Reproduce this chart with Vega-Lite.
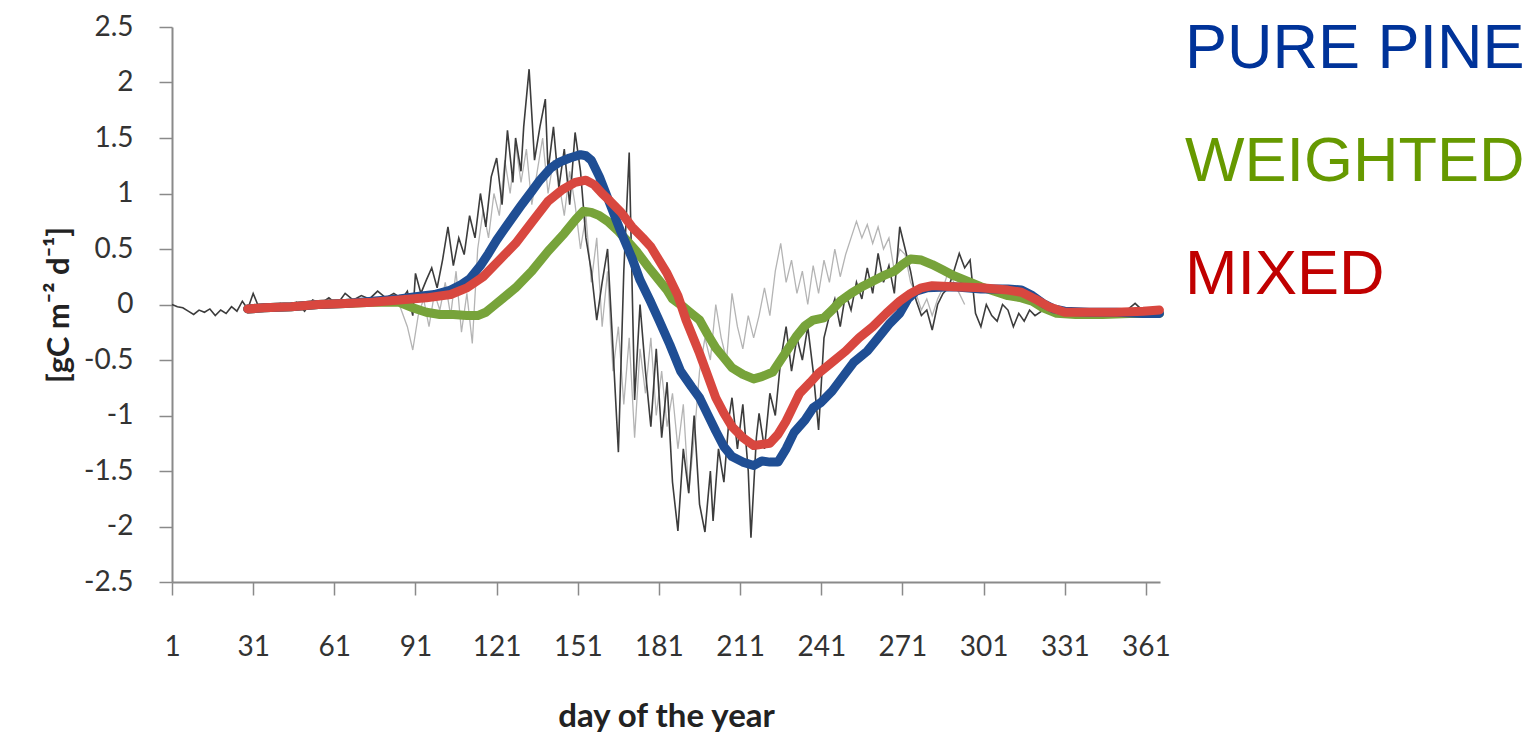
{
  "$schema": "https://vega.github.io/schema/vega-lite/v6.json",
  "width": 988,
  "height": 555,
  "autosize": "none",
  "padding": {"left": 172, "top": 27, "right": 373, "bottom": 152},
  "background": "white",
  "config": {"view": {"stroke": null}},
  "datasets": {
    "dark": [
      {"day":1,"value":0.0},{"day":3,"value":-0.02},{"day":5,"value":-0.03},{"day":7,"value":-0.06},{"day":9,"value":-0.09},{"day":11,"value":-0.05},{"day":13,"value":-0.07},{"day":15,"value":-0.04},{"day":17,"value":-0.1},{"day":19,"value":-0.05},{"day":21,"value":-0.08},{"day":23,"value":-0.02},{"day":25,"value":-0.06},{"day":27,"value":0.03},{"day":29,"value":-0.04},{"day":31,"value":0.1},{"day":33,"value":-0.02},{"day":35,"value":0.0},{"day":38,"value":-0.04},{"day":41,"value":0.01},{"day":44,"value":-0.03},{"day":47,"value":0.02},{"day":50,"value":-0.06},{"day":53,"value":0.04},{"day":56,"value":0.01},{"day":59,"value":0.06},{"day":62,"value":0.0},{"day":65,"value":0.1},{"day":68,"value":0.04},{"day":71,"value":0.08},{"day":74,"value":0.05},{"day":77,"value":0.12},{"day":80,"value":0.06},{"day":83,"value":0.1},{"day":86,"value":0.05},{"day":88,"value":0.12},{"day":90,"value":-0.1},{"day":91,"value":0.28},{"day":93,"value":0.1},{"day":95,"value":0.22},{"day":97,"value":0.33},{"day":99,"value":0.15},{"day":101,"value":0.4},{"day":103,"value":0.7},{"day":105,"value":0.35},{"day":107,"value":0.6},{"day":109,"value":0.45},{"day":111,"value":0.8},{"day":113,"value":0.6},{"day":115,"value":1.0},{"day":117,"value":0.7},{"day":119,"value":1.15},{"day":121,"value":1.32},{"day":123,"value":0.9},{"day":125,"value":1.57},{"day":127,"value":1.1},{"day":128,"value":1.5},{"day":130,"value":1.2},{"day":131,"value":1.6},{"day":133,"value":2.12},{"day":135,"value":1.3},{"day":137,"value":1.6},{"day":139,"value":1.85},{"day":140,"value":1.2},{"day":142,"value":1.6},{"day":144,"value":1.05},{"day":146,"value":1.4},{"day":148,"value":0.9},{"day":150,"value":1.55},{"day":152,"value":1.2},{"day":154,"value":0.6},{"day":156,"value":0.3},{"day":158,"value":-0.14},{"day":160,"value":0.2},{"day":162,"value":0.5},{"day":164,"value":-0.4},{"day":166,"value":-1.33},{"day":168,"value":0.3},{"day":170,"value":1.37},{"day":172,"value":-0.86},{"day":174,"value":0.0},{"day":176,"value":-0.6},{"day":178,"value":-1.1},{"day":180,"value":-0.4},{"day":182,"value":-1.2},{"day":184,"value":-0.7},{"day":186,"value":-1.6},{"day":188,"value":-2.04},{"day":190,"value":-1.3},{"day":192,"value":-1.7},{"day":194,"value":-1.0},{"day":196,"value":-1.8},{"day":198,"value":-2.05},{"day":200,"value":-1.5},{"day":201,"value":-1.95},{"day":203,"value":-1.3},{"day":205,"value":-1.6},{"day":207,"value":-1.0},{"day":208,"value":-0.84},{"day":210,"value":-1.3},{"day":212,"value":-0.9},{"day":214,"value":-1.5},{"day":215,"value":-2.1},{"day":217,"value":-1.2},{"day":218,"value":-0.98},{"day":220,"value":-1.3},{"day":222,"value":-0.8},{"day":224,"value":-1.0},{"day":226,"value":-0.5},{"day":228,"value":-0.2},{"day":230,"value":-0.6},{"day":232,"value":-0.3},{"day":234,"value":-0.5},{"day":236,"value":-0.2},{"day":238,"value":-0.6},{"day":240,"value":-1.13},{"day":242,"value":-0.3},{"day":244,"value":-0.1},{"day":246,"value":0.05},{"day":248,"value":-0.2},{"day":250,"value":0.1},{"day":252,"value":-0.05},{"day":254,"value":0.2},{"day":256,"value":0.05},{"day":258,"value":0.33},{"day":260,"value":0.1},{"day":262,"value":0.46},{"day":264,"value":0.2},{"day":266,"value":0.35},{"day":268,"value":0.1},{"day":270,"value":0.7},{"day":272,"value":0.5},{"day":274,"value":0.3},{"day":276,"value":0.04},{"day":278,"value":-0.1},{"day":280,"value":-0.05},{"day":282,"value":-0.23},{"day":284,"value":0.0},{"day":286,"value":0.1},{"day":288,"value":0.15},{"day":290,"value":0.3},{"day":292,"value":0.46},{"day":294,"value":0.33},{"day":296,"value":0.4},{"day":298,"value":-0.08},{"day":300,"value":-0.2},{"day":302,"value":0.0},{"day":304,"value":-0.1},{"day":306,"value":-0.15},{"day":308,"value":0.0},{"day":310,"value":-0.05},{"day":312,"value":-0.2},{"day":314,"value":-0.08},{"day":316,"value":-0.15},{"day":318,"value":-0.05},{"day":320,"value":-0.1},{"day":323,"value":-0.05},{"day":326,"value":-0.08},{"day":330,"value":-0.06},{"day":335,"value":-0.07},{"day":340,"value":-0.05},{"day":345,"value":-0.08},{"day":350,"value":-0.06},{"day":354,"value":-0.05},{"day":357,"value":0.01},{"day":360,"value":-0.06},{"day":366,"value":-0.07}
    ],
    "light": [
      {"day":85,"value":0.0},{"day":88,"value":-0.2},{"day":90,"value":-0.41},{"day":92,"value":-0.1},{"day":94,"value":0.05},{"day":96,"value":-0.2},{"day":98,"value":0.1},{"day":100,"value":-0.05},{"day":102,"value":0.2},{"day":104,"value":-0.1},{"day":106,"value":0.3},{"day":108,"value":-0.25},{"day":110,"value":0.1},{"day":112,"value":-0.35},{"day":114,"value":0.5},{"day":116,"value":0.85},{"day":118,"value":0.6},{"day":120,"value":1.0},{"day":122,"value":0.8},{"day":124,"value":1.3},{"day":126,"value":1.0},{"day":128,"value":1.45},{"day":130,"value":1.1},{"day":132,"value":1.4},{"day":134,"value":0.9},{"day":136,"value":1.2},{"day":138,"value":1.5},{"day":140,"value":1.0},{"day":142,"value":1.3},{"day":144,"value":1.1},{"day":146,"value":0.8},{"day":148,"value":1.2},{"day":150,"value":0.9},{"day":152,"value":0.5},{"day":154,"value":0.8},{"day":156,"value":0.2},{"day":158,"value":0.6},{"day":160,"value":-0.2},{"day":162,"value":0.3},{"day":164,"value":-0.6},{"day":166,"value":-0.2},{"day":168,"value":-0.9},{"day":170,"value":-0.3},{"day":172,"value":-1.2},{"day":174,"value":-0.4},{"day":176,"value":-0.8},{"day":178,"value":-0.3},{"day":180,"value":-1.0},{"day":182,"value":-0.6},{"day":184,"value":-1.1},{"day":186,"value":-0.8},{"day":188,"value":-1.3},{"day":190,"value":-0.9},{"day":192,"value":-1.7},{"day":194,"value":-1.2},{"day":196,"value":-0.6},{"day":198,"value":-0.3},{"day":200,"value":-0.5},{"day":202,"value":0.0},{"day":204,"value":-0.3},{"day":206,"value":-0.5},{"day":208,"value":0.1},{"day":210,"value":-0.2},{"day":212,"value":-0.4},{"day":214,"value":-0.1},{"day":216,"value":-0.3},{"day":218,"value":-0.1},{"day":220,"value":0.15},{"day":222,"value":-0.1},{"day":224,"value":0.3},{"day":226,"value":0.55},{"day":228,"value":0.2},{"day":230,"value":0.4},{"day":232,"value":0.1},{"day":234,"value":0.3},{"day":236,"value":0.0},{"day":238,"value":0.35},{"day":240,"value":0.1},{"day":242,"value":0.4},{"day":244,"value":0.2},{"day":246,"value":0.5},{"day":248,"value":0.25},{"day":250,"value":0.45},{"day":252,"value":0.6},{"day":254,"value":0.75},{"day":256,"value":0.6},{"day":258,"value":0.72},{"day":260,"value":0.55},{"day":262,"value":0.7},{"day":264,"value":0.5},{"day":266,"value":0.6},{"day":268,"value":0.3},{"day":270,"value":0.5},{"day":272,"value":0.45},{"day":274,"value":0.2},{"day":276,"value":0.1},{"day":278,"value":-0.05},{"day":280,"value":0.05},{"day":282,"value":-0.1},{"day":284,"value":0.05},{"day":286,"value":0.15},{"day":288,"value":0.3},{"day":290,"value":0.2},{"day":292,"value":0.1},{"day":294,"value":0.0}
    ],
    "smooth": [
      {"series":"WEIGHTED","day":29,"value":-0.04},{"series":"WEIGHTED","day":35,"value":-0.03},{"series":"WEIGHTED","day":45,"value":-0.02},{"series":"WEIGHTED","day":55,"value":0.0},{"series":"WEIGHTED","day":65,"value":0.01},{"series":"WEIGHTED","day":75,"value":0.02},{"series":"WEIGHTED","day":85,"value":0.02},{"series":"WEIGHTED","day":90,"value":-0.03},{"series":"WEIGHTED","day":95,"value":-0.07},{"series":"WEIGHTED","day":100,"value":-0.09},{"series":"WEIGHTED","day":105,"value":-0.09},{"series":"WEIGHTED","day":110,"value":-0.1},{"series":"WEIGHTED","day":114,"value":-0.1},{"series":"WEIGHTED","day":117,"value":-0.07},{"series":"WEIGHTED","day":120,"value":-0.01},{"series":"WEIGHTED","day":123,"value":0.05},{"series":"WEIGHTED","day":128,"value":0.15},{"series":"WEIGHTED","day":134,"value":0.3},{"series":"WEIGHTED","day":140,"value":0.48},{"series":"WEIGHTED","day":146,"value":0.64},{"series":"WEIGHTED","day":150,"value":0.76},{"series":"WEIGHTED","day":153,"value":0.84},{"series":"WEIGHTED","day":156,"value":0.83},{"series":"WEIGHTED","day":159,"value":0.8},{"series":"WEIGHTED","day":162,"value":0.75},{"series":"WEIGHTED","day":166,"value":0.66},{"series":"WEIGHTED","day":169,"value":0.58},{"series":"WEIGHTED","day":173,"value":0.47},{"series":"WEIGHTED","day":177,"value":0.34},{"series":"WEIGHTED","day":181,"value":0.22},{"series":"WEIGHTED","day":184,"value":0.13},{"series":"WEIGHTED","day":186,"value":0.05},{"series":"WEIGHTED","day":190,"value":-0.02},{"series":"WEIGHTED","day":193,"value":-0.08},{"series":"WEIGHTED","day":196,"value":-0.14},{"series":"WEIGHTED","day":199,"value":-0.27},{"series":"WEIGHTED","day":202,"value":-0.39},{"series":"WEIGHTED","day":205,"value":-0.48},{"series":"WEIGHTED","day":208,"value":-0.57},{"series":"WEIGHTED","day":212,"value":-0.63},{"series":"WEIGHTED","day":216,"value":-0.67},{"series":"WEIGHTED","day":219,"value":-0.65},{"series":"WEIGHTED","day":223,"value":-0.61},{"series":"WEIGHTED","day":226,"value":-0.5},{"series":"WEIGHTED","day":229,"value":-0.39},{"series":"WEIGHTED","day":232,"value":-0.28},{"series":"WEIGHTED","day":235,"value":-0.19},{"series":"WEIGHTED","day":238,"value":-0.14},{"series":"WEIGHTED","day":242,"value":-0.12},{"series":"WEIGHTED","day":245,"value":-0.05},{"series":"WEIGHTED","day":248,"value":0.03},{"series":"WEIGHTED","day":252,"value":0.1},{"series":"WEIGHTED","day":256,"value":0.16},{"series":"WEIGHTED","day":260,"value":0.21},{"series":"WEIGHTED","day":264,"value":0.26},{"series":"WEIGHTED","day":268,"value":0.3},{"series":"WEIGHTED","day":271,"value":0.36},{"series":"WEIGHTED","day":274,"value":0.41},{"series":"WEIGHTED","day":278,"value":0.4},{"series":"WEIGHTED","day":282,"value":0.36},{"series":"WEIGHTED","day":286,"value":0.31},{"series":"WEIGHTED","day":290,"value":0.26},{"series":"WEIGHTED","day":295,"value":0.21},{"series":"WEIGHTED","day":300,"value":0.16},{"series":"WEIGHTED","day":305,"value":0.12},{"series":"WEIGHTED","day":310,"value":0.08},{"series":"WEIGHTED","day":315,"value":0.06},{"series":"WEIGHTED","day":319,"value":0.03},{"series":"WEIGHTED","day":323,"value":-0.03},{"series":"WEIGHTED","day":328,"value":-0.08},{"series":"WEIGHTED","day":335,"value":-0.09},{"series":"WEIGHTED","day":345,"value":-0.09},{"series":"WEIGHTED","day":355,"value":-0.08},{"series":"WEIGHTED","day":366,"value":-0.08},
      {"series":"PURE PINE","day":29,"value":-0.04},{"series":"PURE PINE","day":35,"value":-0.03},{"series":"PURE PINE","day":45,"value":-0.02},{"series":"PURE PINE","day":55,"value":0.0},{"series":"PURE PINE","day":65,"value":0.01},{"series":"PURE PINE","day":75,"value":0.03},{"series":"PURE PINE","day":85,"value":0.05},{"series":"PURE PINE","day":91,"value":0.07},{"series":"PURE PINE","day":98,"value":0.09},{"series":"PURE PINE","day":104,"value":0.13},{"series":"PURE PINE","day":108,"value":0.18},{"series":"PURE PINE","day":111,"value":0.23},{"series":"PURE PINE","day":115,"value":0.35},{"series":"PURE PINE","day":118,"value":0.46},{"series":"PURE PINE","day":121,"value":0.58},{"series":"PURE PINE","day":125,"value":0.72},{"series":"PURE PINE","day":130,"value":0.89},{"series":"PURE PINE","day":134,"value":1.02},{"series":"PURE PINE","day":137,"value":1.12},{"series":"PURE PINE","day":141,"value":1.23},{"series":"PURE PINE","day":144,"value":1.28},{"series":"PURE PINE","day":148,"value":1.32},{"series":"PURE PINE","day":152,"value":1.35},{"series":"PURE PINE","day":154,"value":1.34},{"series":"PURE PINE","day":156,"value":1.3},{"series":"PURE PINE","day":159,"value":1.15},{"series":"PURE PINE","day":163,"value":0.9},{"series":"PURE PINE","day":167,"value":0.65},{"series":"PURE PINE","day":171,"value":0.42},{"series":"PURE PINE","day":174,"value":0.22},{"series":"PURE PINE","day":178,"value":0.02},{"series":"PURE PINE","day":181,"value":-0.14},{"series":"PURE PINE","day":185,"value":-0.36},{"series":"PURE PINE","day":189,"value":-0.6},{"series":"PURE PINE","day":193,"value":-0.74},{"series":"PURE PINE","day":196,"value":-0.84},{"series":"PURE PINE","day":199,"value":-0.99},{"series":"PURE PINE","day":202,"value":-1.14},{"series":"PURE PINE","day":205,"value":-1.28},{"series":"PURE PINE","day":208,"value":-1.37},{"series":"PURE PINE","day":212,"value":-1.42},{"series":"PURE PINE","day":216,"value":-1.45},{"series":"PURE PINE","day":219,"value":-1.41},{"series":"PURE PINE","day":222,"value":-1.42},{"series":"PURE PINE","day":225,"value":-1.42},{"series":"PURE PINE","day":228,"value":-1.3},{"series":"PURE PINE","day":231,"value":-1.15},{"series":"PURE PINE","day":235,"value":-1.04},{"series":"PURE PINE","day":238,"value":-0.93},{"series":"PURE PINE","day":241,"value":-0.88},{"series":"PURE PINE","day":245,"value":-0.78},{"series":"PURE PINE","day":249,"value":-0.65},{"series":"PURE PINE","day":253,"value":-0.52},{"series":"PURE PINE","day":258,"value":-0.42},{"series":"PURE PINE","day":262,"value":-0.3},{"series":"PURE PINE","day":266,"value":-0.18},{"series":"PURE PINE","day":270,"value":-0.08},{"series":"PURE PINE","day":273,"value":0.05},{"series":"PURE PINE","day":276,"value":0.12},{"series":"PURE PINE","day":280,"value":0.15},{"series":"PURE PINE","day":290,"value":0.16},{"series":"PURE PINE","day":300,"value":0.14},{"series":"PURE PINE","day":310,"value":0.14},{"series":"PURE PINE","day":315,"value":0.13},{"series":"PURE PINE","day":319,"value":0.08},{"series":"PURE PINE","day":323,"value":0.01},{"series":"PURE PINE","day":327,"value":-0.04},{"series":"PURE PINE","day":331,"value":-0.06},{"series":"PURE PINE","day":340,"value":-0.07},{"series":"PURE PINE","day":350,"value":-0.07},{"series":"PURE PINE","day":360,"value":-0.08},{"series":"PURE PINE","day":366,"value":-0.08},
      {"series":"MIXED","day":29,"value":-0.04},{"series":"MIXED","day":35,"value":-0.03},{"series":"MIXED","day":45,"value":-0.02},{"series":"MIXED","day":55,"value":0.0},{"series":"MIXED","day":65,"value":0.01},{"series":"MIXED","day":75,"value":0.02},{"series":"MIXED","day":85,"value":0.04},{"series":"MIXED","day":95,"value":0.06},{"series":"MIXED","day":104,"value":0.09},{"series":"MIXED","day":110,"value":0.15},{"series":"MIXED","day":116,"value":0.25},{"series":"MIXED","day":122,"value":0.4},{"series":"MIXED","day":128,"value":0.55},{"series":"MIXED","day":134,"value":0.74},{"series":"MIXED","day":140,"value":0.93},{"series":"MIXED","day":145,"value":1.03},{"series":"MIXED","day":150,"value":1.1},{"series":"MIXED","day":154,"value":1.12},{"series":"MIXED","day":157,"value":1.08},{"series":"MIXED","day":160,"value":1.0},{"series":"MIXED","day":163,"value":0.93},{"series":"MIXED","day":167,"value":0.83},{"series":"MIXED","day":171,"value":0.7},{"series":"MIXED","day":175,"value":0.6},{"series":"MIXED","day":178,"value":0.52},{"series":"MIXED","day":181,"value":0.4},{"series":"MIXED","day":184,"value":0.28},{"series":"MIXED","day":188,"value":0.08},{"series":"MIXED","day":191,"value":-0.14},{"series":"MIXED","day":194,"value":-0.32},{"series":"MIXED","day":196,"value":-0.44},{"series":"MIXED","day":199,"value":-0.64},{"series":"MIXED","day":202,"value":-0.84},{"series":"MIXED","day":205,"value":-0.98},{"series":"MIXED","day":208,"value":-1.1},{"series":"MIXED","day":212,"value":-1.2},{"series":"MIXED","day":216,"value":-1.27},{"series":"MIXED","day":219,"value":-1.26},{"series":"MIXED","day":222,"value":-1.25},{"series":"MIXED","day":225,"value":-1.17},{"series":"MIXED","day":228,"value":-1.05},{"series":"MIXED","day":231,"value":-0.9},{"series":"MIXED","day":233,"value":-0.8},{"series":"MIXED","day":237,"value":-0.7},{"series":"MIXED","day":240,"value":-0.62},{"series":"MIXED","day":245,"value":-0.52},{"series":"MIXED","day":250,"value":-0.42},{"series":"MIXED","day":255,"value":-0.3},{"series":"MIXED","day":260,"value":-0.2},{"series":"MIXED","day":265,"value":-0.08},{"series":"MIXED","day":270,"value":0.03},{"series":"MIXED","day":274,"value":0.1},{"series":"MIXED","day":278,"value":0.15},{"series":"MIXED","day":282,"value":0.17},{"series":"MIXED","day":290,"value":0.16},{"series":"MIXED","day":300,"value":0.15},{"series":"MIXED","day":310,"value":0.13},{"series":"MIXED","day":315,"value":0.11},{"series":"MIXED","day":320,"value":0.05},{"series":"MIXED","day":325,"value":-0.02},{"series":"MIXED","day":331,"value":-0.07},{"series":"MIXED","day":340,"value":-0.07},{"series":"MIXED","day":350,"value":-0.07},{"series":"MIXED","day":360,"value":-0.06},{"series":"MIXED","day":366,"value":-0.05}
    ]
  },
  "encoding": {
    "x": {
      "field": "day", "type": "quantitative",
      "scale": {"domain": [1, 366.2], "nice": false, "zero": false},
      "axis": {
        "values": [1,31,61,91,121,151,181,211,241,271,301,331,361],
        "grid": false, "tickSize": 13, "tickColor": "#8a8a8a", "tickWidth": 1.5,
        "domainColor": "#8a8a8a", "domainWidth": 2,
        "labelFont": "Lato", "labelFontSize": 28, "labelColor": "#333333", "labelPadding": 38,
        "labelFlush": false, "labelOverlap": false,
        "title": "day of the year", "titleFont": "Lato", "titleFontSize": 33, "titleFontWeight": "bold",
        "titleColor": "#222222", "titlePadding": 39
      }
    },
    "y": {
      "field": "value", "type": "quantitative",
      "scale": {"domain": [-2.5, 2.5], "nice": false},
      "axis": {
        "values": [-2.5,-2,-1.5,-1,-0.5,0,0.5,1,1.5,2,2.5],
        "labelExpr": "'' + datum.value",
        "grid": false, "tickSize": 13, "tickColor": "#8a8a8a", "tickWidth": 1.5,
        "domainColor": "#8a8a8a", "domainWidth": 2,
        "labelFont": "Lato", "labelFontSize": 28, "labelColor": "#333333", "labelPadding": 26,
        "labelFlush": false, "labelOverlap": false,
        "title": "[gC m⁻² d⁻¹]", "titleFont": "Lato", "titleFontSize": 31, "titleFontWeight": "bold",
        "titleColor": "#222222", "titlePadding": 8
      }
    }
  },
  "layer": [
    {
      "data": {"name": "light"},
      "mark": {"type": "line", "color": "#b4b4b4", "strokeWidth": 1.3},
      "encoding": {}
    },
    {
      "data": {"name": "dark"},
      "mark": {"type": "line", "color": "#3c3c3c", "strokeWidth": 1.6},
      "encoding": {}
    },
    {
      "data": {"name": "smooth"},
      "transform": [{"filter": "datum.series === 'WEIGHTED'"}],
      "mark": {"type": "line", "strokeWidth": 9, "strokeCap": "round", "strokeJoin": "round"},
      "encoding": {"color": {"field": "series", "type": "nominal"}}
    },
    {
      "data": {"name": "smooth"},
      "transform": [{"filter": "datum.series === 'PURE PINE'"}],
      "mark": {"type": "line", "strokeWidth": 9, "strokeCap": "round", "strokeJoin": "round"},
      "encoding": {"color": {"field": "series", "type": "nominal"}}
    },
    {
      "data": {"name": "smooth"},
      "transform": [{"filter": "datum.series === 'MIXED'"}],
      "mark": {"type": "line", "strokeWidth": 9, "strokeCap": "round", "strokeJoin": "round"},
      "encoding": {
        "color": {
          "field": "series", "type": "nominal",
          "scale": {"domain": ["PURE PINE", "WEIGHTED", "MIXED"], "range": ["#1f4e94", "#77a33a", "#d8473f"]},
          "legend": {
            "title": null, "orient": "none", "legendX": 950, "legendY": -10,
            "padding": 0, "offset": 0,
            "symbolSize": 0, "symbolStrokeWidth": 0, "symbolOpacity": 0, "labelOffset": 0,
            "labelFont": "Liberation Sans", "labelFontSize": 63, "labelLimit": 600,
            "rowPadding": 49,
            "encode": {"labels": {"update": {"fill": {"signal": "datum.value === 'PURE PINE' ? '#003399' : datum.value === 'WEIGHTED' ? '#669900' : '#c00000'"}}}}
          }
        }
      }
    }
  ]
}
